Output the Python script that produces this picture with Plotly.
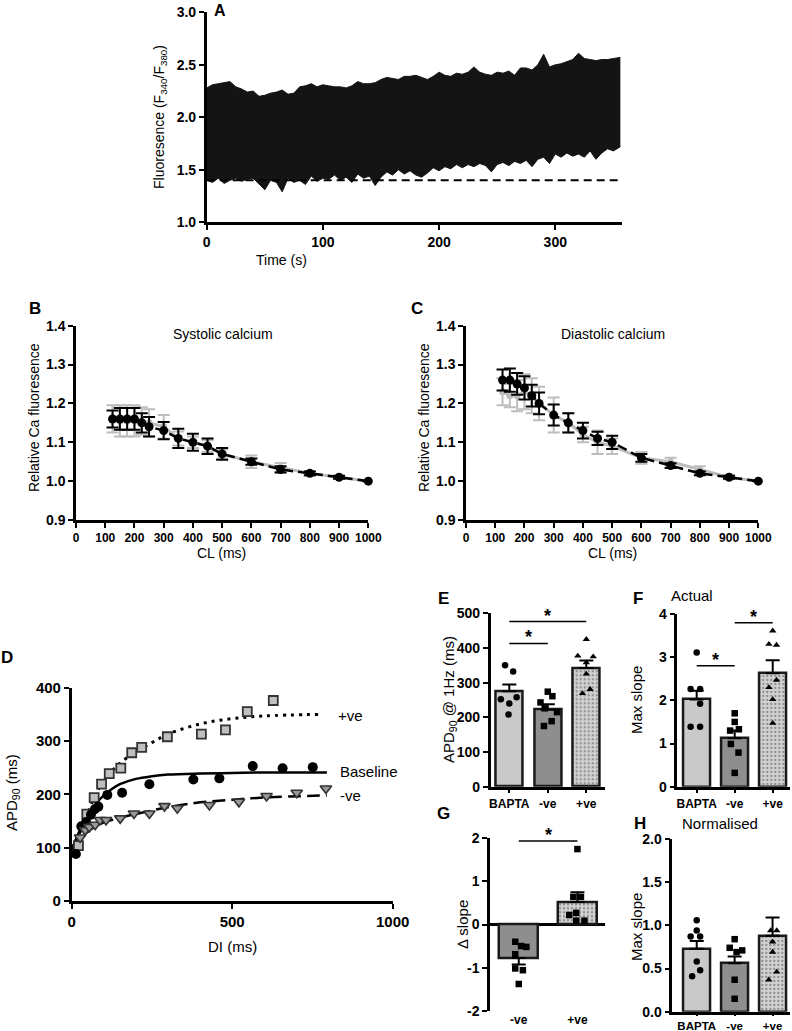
import plotly.graph_objects as go

W, H = 792, 1031
FONT = "Arial, 'Liberation Sans', sans-serif"


def X(px):
    return px / W


def Y(py):
    return 1 - py / H


# ---------------- Panel A data (envelope of the fluorescence trace) ----------------
A_T = [0, 5, 10, 15, 20, 25, 30, 35, 40, 45, 50, 55, 60, 65, 70, 75, 80, 85, 90, 95,
       100, 105, 110, 115, 120, 125, 130, 135, 140, 145, 150, 155, 160, 165, 170, 175,
       180, 185, 190, 195, 200, 205, 210, 215, 220, 225, 230, 235, 240, 245, 250, 255,
       260, 265, 270, 275, 280, 285, 290, 295, 300, 305, 310, 315, 320, 325, 330, 335,
       340, 345, 350, 356]
A_UPPER = [2.28, 2.31, 2.32, 2.33, 2.34, 2.29, 2.27, 2.24, 2.25, 2.20, 2.21, 2.23, 2.24, 2.26,
           2.22, 2.23, 2.29, 2.30, 2.32, 2.29, 2.31, 2.30, 2.29, 2.29, 2.28, 2.30, 2.34, 2.32,
           2.32, 2.33, 2.36, 2.38, 2.37, 2.36, 2.39, 2.39, 2.40, 2.38, 2.36, 2.39, 2.43, 2.40,
           2.39, 2.42, 2.41, 2.43, 2.48, 2.43, 2.41, 2.40, 2.43, 2.42, 2.44, 2.40, 2.47, 2.47,
           2.45, 2.50, 2.60, 2.48, 2.50, 2.51, 2.53, 2.55, 2.61, 2.56, 2.55, 2.54, 2.55, 2.55,
           2.56, 2.57]
A_LOWER = [1.40, 1.38, 1.42, 1.37, 1.40, 1.42, 1.39, 1.41, 1.42, 1.36, 1.31, 1.40, 1.38, 1.29,
           1.42, 1.38, 1.40, 1.36, 1.44, 1.39, 1.42, 1.41, 1.45, 1.40, 1.43, 1.38, 1.46, 1.42,
           1.44, 1.35, 1.43, 1.48, 1.45, 1.50, 1.46, 1.49, 1.45, 1.43, 1.47, 1.52, 1.49, 1.53,
           1.51, 1.55, 1.52, 1.55, 1.53, 1.56, 1.54, 1.48, 1.55, 1.57, 1.54, 1.58, 1.56, 1.59,
           1.53, 1.60, 1.62, 1.56, 1.65, 1.62, 1.66, 1.63, 1.65, 1.62, 1.68, 1.60, 1.66, 1.70,
           1.68, 1.72]
A_BASELINE = 1.4

# ---------------- Panels B & C ----------------
CL = [125, 150, 175, 200, 225, 250, 300, 350, 400, 450, 500, 600, 700, 800, 900, 1000]
B_BLACK = [1.16, 1.16, 1.16, 1.16, 1.15, 1.14, 1.13, 1.11, 1.10, 1.09, 1.07, 1.05, 1.03, 1.02, 1.01, 1.00]
B_BLACK_ERR = [0.022, 0.028, 0.028, 0.028, 0.025, 0.025, 0.022, 0.025, 0.022, 0.02, 0.015, 0.008, 0.008, 0.005, 0.004, 0.0]
B_GRAY = [1.16, 1.155, 1.155, 1.155, 1.155, 1.15, 1.14, 1.11, 1.10, 1.09, 1.07, 1.05, 1.035, 1.02, 1.01, 1.00]
B_GRAY_ERR = [0.035, 0.04, 0.04, 0.04, 0.035, 0.035, 0.03, 0.018, 0.015, 0.015, 0.012, 0.016, 0.012, 0.006, 0.004, 0.0]

C_BLACK = [1.26, 1.26, 1.25, 1.24, 1.22, 1.20, 1.17, 1.15, 1.13, 1.11, 1.10, 1.06, 1.04, 1.02, 1.01, 1.00]
C_BLACK_ERR = [0.027, 0.03, 0.028, 0.03, 0.028, 0.028, 0.027, 0.025, 0.02, 0.017, 0.017, 0.01, 0.006, 0.005, 0.004, 0.0]
C_GRAY = [1.23, 1.22, 1.22, 1.23, 1.22, 1.20, 1.17, 1.15, 1.12, 1.10, 1.09, 1.06, 1.05, 1.03, 1.01, 1.00]
C_GRAY_ERR = [0.035, 0.03, 0.04, 0.045, 0.045, 0.043, 0.045, 0.025, 0.02, 0.03, 0.02, 0.015, 0.01, 0.008, 0.005, 0.0]

# ---------------- Panel D ----------------
D_POS_DI = [21, 47, 70, 93, 117, 153, 187, 218, 298, 404, 479, 547, 628]
D_POS_APD = [104, 163, 194, 219, 239, 249, 278, 288, 308, 313, 321, 355, 376]
D_BASE_DI = [13, 30, 45, 60, 72, 83, 111, 157, 242, 379, 460, 564, 657, 751]
D_BASE_APD = [88, 140, 148, 162, 172, 177, 199, 203, 219, 228, 230, 253, 249, 251]
D_NEG_DI = [26, 42, 55, 73, 88, 107, 151, 194, 242, 289, 329, 429, 521, 607, 701, 792]
D_NEG_APD = [119, 133, 139, 143, 152, 152, 155, 164, 164, 178, 174, 180, 186, 197, 203, 211]
# fitted curves
FIT_BASE_DI = [0, 25, 50, 75, 100, 125, 150, 200, 250, 300, 400, 500, 600, 795]
FIT_BASE_APD = [95, 132, 160, 182, 198, 210, 219, 229, 234, 237, 239, 240, 241, 241]
FIT_POS_DI = [0, 25, 50, 75, 100, 150, 200, 250, 300, 400, 500, 600, 775]
FIT_POS_APD = [100, 128, 165, 200, 226, 258, 280, 297, 313, 332, 342, 347, 350]
FIT_NEG_DI = [0, 25, 50, 75, 100, 150, 200, 300, 400, 500, 600, 795]
FIT_NEG_APD = [100, 116, 130, 140, 147, 156, 163, 176, 185, 190, 194, 198]

# ---------------- Panels E-H ----------------
GROUPS3 = ["BAPTA", "-ve", "+ve"]
GROUPS2 = ["-ve", "+ve"]

E_MEAN = [275, 222, 342]
E_SEM = [20, 16, 22]
E_PTS = [[350, 332, 258, 252, 240, 208],
         [274, 261, 243, 226, 215, 189, 175],
         [425, 377, 375, 358, 325, 281, 269]]

F_MEAN = [2.02, 1.12, 2.63]
F_SEM = [0.2, 0.18, 0.3]
F_PTS = [[3.11, 2.26, 2.26, 1.92, 1.39, 1.39],
         [1.70, 1.50, 1.33, 1.30, 0.99, 0.79, 0.32],
         [3.61, 3.30, 3.28, 2.47, 2.30, 2.02, 1.47]]

G_MEAN = [-0.78, 0.52]
G_SEM = [0.15, 0.23]
G_PTS = [[-0.40, -0.52, -0.50, -0.69, -1.02, -1.06, -1.38],
         [1.75, 0.64, 0.64, 0.22, 0.27, 0.09, 0.09]]

H_MEAN = [0.73, 0.56, 0.88]
H_SEM = [0.09, 0.08, 0.21]
H_PTS = [[1.06, 0.94, 0.87, 0.87, 0.58, 0.48, 0.41],
         [0.84, 0.74, 0.69, 0.71, 0.37, 0.15],
         [0.94, 0.94, 0.81, 0.69, 0.46, 0.37]]

# horizontal scatter offsets (style only)
E_DX = [[-0.11, 0.10, 0.19, -0.22, 0.0, -0.02],
        [0.0, 0.12, -0.19, -0.08, 0.24, 0.10, -0.10],
        [0.0, -0.22, 0.18, 0.0, 0.0, 0.10, -0.10]]
F_DX = [[0.0, -0.16, 0.09, 0.09, -0.16, 0.09],
        [0.0, 0.0, 0.11, -0.12, -0.10, 0.10, 0.0],
        [0.0, -0.10, 0.10, 0.10, -0.10, 0.0, 0.0]]
G_DX = [[-0.06, 0.13, 0.04, -0.06, -0.06, 0.07, 0.0],
        [0.0, -0.07, 0.06, -0.14, -0.02, -0.02, 0.12]]
H_DX = [[0.0, 0.0, -0.16, 0.09, 0.0, 0.09, -0.12],
        [0.0, -0.13, 0.05, 0.20, 0.0, 0.0],
        [-0.05, 0.11, 0.0, 0.0, 0.11, -0.10]]

BAR3_COLORS = ["#c9c9c9", "#8e8e8e", "#d2d2d2"]
BAR3_PATTERN = ["", "", "."]
BAR2_COLORS = ["#8e8e8e", "#d2d2d2"]
BAR2_PATTERN = ["", "."]
SYMBOLS3 = ["circle", "square", "triangle-up"]

fig = go.Figure()


def ax_common(tsize=13):
    return dict(showline=True, linecolor="black", linewidth=2.5, ticks="outside", ticklen=5,
                tickwidth=2, tickcolor="black", showgrid=False, zeroline=False, automargin=False,
                ticklabeloverflow="allow",
                tickfont=dict(family=FONT, size=tsize, color="black", weight="bold"),
                fixedrange=True)


def xax(x0, x1, rng, anchor, tsize=13, **kw):
    d = ax_common(tsize)
    d.update(domain=[X(x0), X(x1)], range=rng, anchor=anchor)
    d.update(kw)
    return d


def yax(y0, y1, rng, anchor, tsize=13, **kw):
    d = ax_common(tsize)
    d.update(domain=[Y(y1), Y(y0)], range=rng, anchor=anchor)
    d.update(kw)
    return d


# ---- A ----
fig.add_trace(go.Scatter(x=A_T, y=A_LOWER, mode="lines", line=dict(color="#141414", width=1),
                         xaxis="x", yaxis="y", showlegend=False, hoverinfo="skip"))
fig.add_trace(go.Scatter(x=A_T, y=A_UPPER, mode="lines", fill="tonexty", fillcolor="#141414",
                         line=dict(color="#141414", width=1),
                         xaxis="x", yaxis="y", showlegend=False, hoverinfo="skip"))
fig.add_trace(go.Scatter(x=[A_T[0], A_T[-1]], y=[A_BASELINE, A_BASELINE], mode="lines",
                         line=dict(color="black", width=2, dash="8px,5px"),
                         xaxis="x", yaxis="y", showlegend=False))


# ---- B & C ----
def ca_panel(xa, ya, gray, gray_err, black, black_err):
    fig.add_trace(go.Scatter(x=CL, y=gray, mode="lines+markers",
                             line=dict(color="#bdbdbd", width=3),
                             marker=dict(color="#bdbdbd", size=7),
                             error_y=dict(type="data", array=gray_err, color="#bdbdbd", thickness=2, width=6),
                             xaxis=xa, yaxis=ya, showlegend=False, cliponaxis=False))
    fig.add_trace(go.Scatter(x=CL, y=black, mode="lines+markers",
                             line=dict(color="black", width=2.5, dash="10px,5px"),
                             marker=dict(color="black", size=9),
                             error_y=dict(type="data", array=black_err, color="black", thickness=2, width=6),
                             xaxis=xa, yaxis=ya, showlegend=False, cliponaxis=False))


ca_panel("x2", "y2", B_GRAY, B_GRAY_ERR, B_BLACK, B_BLACK_ERR)
ca_panel("x3", "y3", C_GRAY, C_GRAY_ERR, C_BLACK, C_BLACK_ERR)

# ---- D ----
fig.add_trace(go.Scatter(x=FIT_POS_DI, y=FIT_POS_APD, mode="lines",
                         line=dict(color="black", width=3, dash="3px,5px", shape="spline"),
                         xaxis="x4", yaxis="y4", showlegend=False))
fig.add_trace(go.Scatter(x=FIT_BASE_DI, y=FIT_BASE_APD, mode="lines",
                         line=dict(color="black", width=2.5, shape="spline"),
                         xaxis="x4", yaxis="y4", showlegend=False))
fig.add_trace(go.Scatter(x=FIT_NEG_DI, y=FIT_NEG_APD, mode="lines",
                         line=dict(color="black", width=2.5, dash="13px,6px", shape="spline"),
                         xaxis="x4", yaxis="y4", showlegend=False))
fig.add_trace(go.Scatter(x=D_POS_DI, y=D_POS_APD, mode="markers",
                         marker=dict(symbol="square", size=9, color="#bfbfbf", line=dict(color="#333", width=1.8)),
                         xaxis="x4", yaxis="y4", showlegend=False, cliponaxis=False))
fig.add_trace(go.Scatter(x=D_BASE_DI, y=D_BASE_APD, mode="markers",
                         marker=dict(symbol="circle", size=10, color="black"),
                         xaxis="x4", yaxis="y4", showlegend=False, cliponaxis=False))
fig.add_trace(go.Scatter(x=D_NEG_DI, y=D_NEG_APD, mode="markers",
                         marker=dict(symbol="triangle-down", size=10, color="#9a9a9a", line=dict(color="#333", width=1.6)),
                         xaxis="x4", yaxis="y4", showlegend=False, cliponaxis=False))


# ---- bar panels ----
def bar_panel(xa, ya, means, sems, pts, dxs, colors, patterns, symbols, width, down_first=False):
    n = len(means)
    arr = list(sems)
    arrm = [0] * n
    if down_first:
        arr = [0] + list(sems[1:])
        arrm = [sems[0]] + [0] * (n - 1)
    fig.add_trace(go.Bar(x=list(range(n)), y=means, width=width,
                         marker=dict(color=colors, line=dict(color="#1a1a1a", width=2.5),
                                     pattern=dict(shape=patterns, fgcolor="#8a8a8a", size=4, solidity=0.25)),
                         error_y=dict(type="data", symmetric=False, array=arr, arrayminus=arrm,
                                      color="black", thickness=2, width=7),
                         xaxis=xa, yaxis=ya, showlegend=False))
    for i in range(n):
        fig.add_trace(go.Scatter(x=[i + d for d in dxs[i]], y=pts[i], mode="markers",
                                 marker=dict(symbol=symbols[i], size=6.5, color="black"),
                                 xaxis=xa, yaxis=ya, showlegend=False, cliponaxis=False))


bar_panel("x5", "y5", E_MEAN, E_SEM, E_PTS, E_DX, BAR3_COLORS, BAR3_PATTERN, SYMBOLS3, 0.70)
bar_panel("x6", "y6", F_MEAN, F_SEM, F_PTS, F_DX, BAR3_COLORS, BAR3_PATTERN, SYMBOLS3, 0.70)
bar_panel("x7", "y7", G_MEAN, G_SEM, G_PTS, G_DX, BAR2_COLORS, BAR2_PATTERN, ["square", "square"], 0.66,
          down_first=True)
bar_panel("x8", "y8", H_MEAN, H_SEM, H_PTS, H_DX, BAR3_COLORS, BAR3_PATTERN, SYMBOLS3, 0.70)

# ---------------- layout ----------------
cl_ticks = [0, 100, 200, 300, 400, 500, 600, 700, 800, 900, 1000]
layout = dict(
    width=W, height=H, margin=dict(l=0, r=0, t=0, b=0, autoexpand=False),
    paper_bgcolor="white", plot_bgcolor="rgba(0,0,0,0)",
    font=dict(family=FONT, color="black"),
    bargap=0,
    xaxis=xax(206.7, 621.5, [0, 357], "y", tsize=14, tickvals=[0, 100, 200, 300]),
    yaxis=yax(12.3, 222.3, [1.0, 3.0], "x", tsize=14, tickvals=[1.0, 1.5, 2.0, 2.5, 3.0], tickformat=".1f"),
    xaxis2=xax(76, 368.3, [0, 1000], "y2", tsize=12, tickvals=cl_ticks, ticktext=[str(v) for v in cl_ticks]),
    yaxis2=yax(325.7, 520, [0.9, 1.4], "x2", tsize=14, tickvals=[0.9, 1.0, 1.1, 1.2, 1.3, 1.4], tickformat=".1f"),
    xaxis3=xax(466, 758.3, [0, 1000], "y3", tsize=12, tickvals=cl_ticks, ticktext=[str(v) for v in cl_ticks]),
    yaxis3=yax(325.7, 520, [0.9, 1.4], "x3", tsize=14, tickvals=[0.9, 1.0, 1.1, 1.2, 1.3, 1.4], tickformat=".1f"),
    xaxis4=xax(71.7, 392.7, [0, 1000], "y4", tsize=15, tickvals=[0, 500, 1000]),
    yaxis4=yax(687.7, 901, [0, 400], "x4", tsize=15, tickvals=[0, 100, 200, 300, 400]),
    xaxis5=xax(490.7, 605, [-0.483, 2.486], "y5", tsize=12, tickvals=[0, 1, 2], ticktext=GROUPS3, ticklen=4),
    yaxis5=yax(613.3, 786.7, [0, 500], "x5", tsize=14, tickvals=[0, 100, 200, 300, 400, 500]),
    xaxis6=xax(677.3, 790, [-0.51, 2.455], "y6", tsize=12, tickvals=[0, 1, 2], ticktext=GROUPS3, ticklen=4),
    yaxis6=yax(614, 786.7, [0, 4], "x6", tsize=14, tickvals=[0, 1, 2, 3, 4]),
    xaxis7=xax(490, 605, [-0.49, 1.47], "y7", tsize=12, tickvals=[0, 1], ticktext=GROUPS2,
               showline=False, ticks=""),
    yaxis7=yax(838.3, 1010.7, [-2, 2], "x7", tsize=14, tickvals=[-2, -1, 0, 1, 2],
               ticktext=["-2", "-1", "0", "1", "2"],
               zeroline=True, zerolinecolor="black", zerolinewidth=2.5),
    xaxis8=xax(672.3, 790, [-0.644, 2.46], "y8", tsize=11.5, tickvals=[0, 1, 2], ticktext=GROUPS3, ticklen=2),
    yaxis8=yax(839, 1011.7, [0, 2], "x8", tsize=14, tickvals=[0, 0.5, 1.0, 1.5, 2.0], tickformat=".1f"),
)
fig.update_layout(**layout)


def ann(text, x, y, size=14, bold=False, angle=0, xanchor="center", yanchor="middle"):
    return dict(text=text, x=X(x), y=Y(y), xref="paper", yref="paper", showarrow=False,
                font=dict(family=FONT, size=size, color="black", weight="bold" if bold else "normal"),
                textangle=angle, xanchor=xanchor, yanchor=yanchor)


annotations = [
    ann("A", 212, 11, 16, True, xanchor="left"),
    ann("Fluoresence (F<sub>340</sub>/F<sub>380</sub>)", 160, 117, 14, angle=-90),
    ann("Time (s)", 281, 260, 14),
    ann("B", 35, 309, 17, True),
    ann("C", 417, 309, 17, True),
    ann("Systolic calcium", 223, 334, 14),
    ann("Diastolic calcium", 613, 334, 14),
    ann("Relative Ca fluoresence", 34, 418, 14, angle=-90),
    ann("Relative Ca fluoresence", 424, 418, 14, angle=-90),
    ann("CL (ms)", 222, 553, 14),
    ann("CL (ms)", 612, 553, 14),
    ann("D", 7, 657, 17, True),
    ann("APD<sub>90</sub> (ms)", 12, 793, 15, angle=-90),
    ann("DI (ms)", 232, 946, 15),
    ann("+ve", 336, 715, 15, xanchor="left"),
    ann("Baseline", 338, 771, 15, xanchor="left"),
    ann("-ve", 338, 795, 15, xanchor="left"),
    ann("E", 443, 598, 17, True),
    ann("APD<sub>90</sub> @ 1Hz (ms)", 449, 700, 15, angle=-90),
    ann("F", 638, 598, 17, True),
    ann("Actual", 692, 595, 15),
    ann("Max slope", 636, 700, 15, angle=-90),
    ann("G", 443, 813, 17, True),
    ann("\u0394 slope", 462, 925, 15, angle=-90),
    ann("H", 640, 823, 17, True),
    ann("Normalised", 720, 823, 15),
    ann("Max slope", 636, 927, 15, angle=-90),
]

# significance bars: (xaxis, yaxis, x0, x1, y)
SIG = [("x5", "y5", 0, 1, 413), ("x5", "y5", 0, 2, 476),
       ("x6", "y6", 0, 1, 2.8), ("x6", "y6", 1, 2, 3.8),
       ("x7", "y7", 0, 1, 1.94)]
shapes = []
for xa, ya, x0, x1, yv in SIG:
    shapes.append(dict(type="line", xref=xa, yref=ya, x0=x0, x1=x1, y0=yv, y1=yv,
                       line=dict(color="black", width=1.5)))
    annotations.append(dict(text="*", x=(x0 + x1) / 2, y=yv, xref=xa, yref=ya, showarrow=False,
                            yanchor="bottom", yshift=-6,
                            font=dict(family=FONT, size=18, color="black", weight="bold")))

fig.update_layout(annotations=annotations, shapes=shapes)
# remove the browser's default 8px body margin so the figure fills the window exactly
fig.write_html("out.html", config={"displayModeBar": False},
               post_script="document.body.style.margin='0px';")
